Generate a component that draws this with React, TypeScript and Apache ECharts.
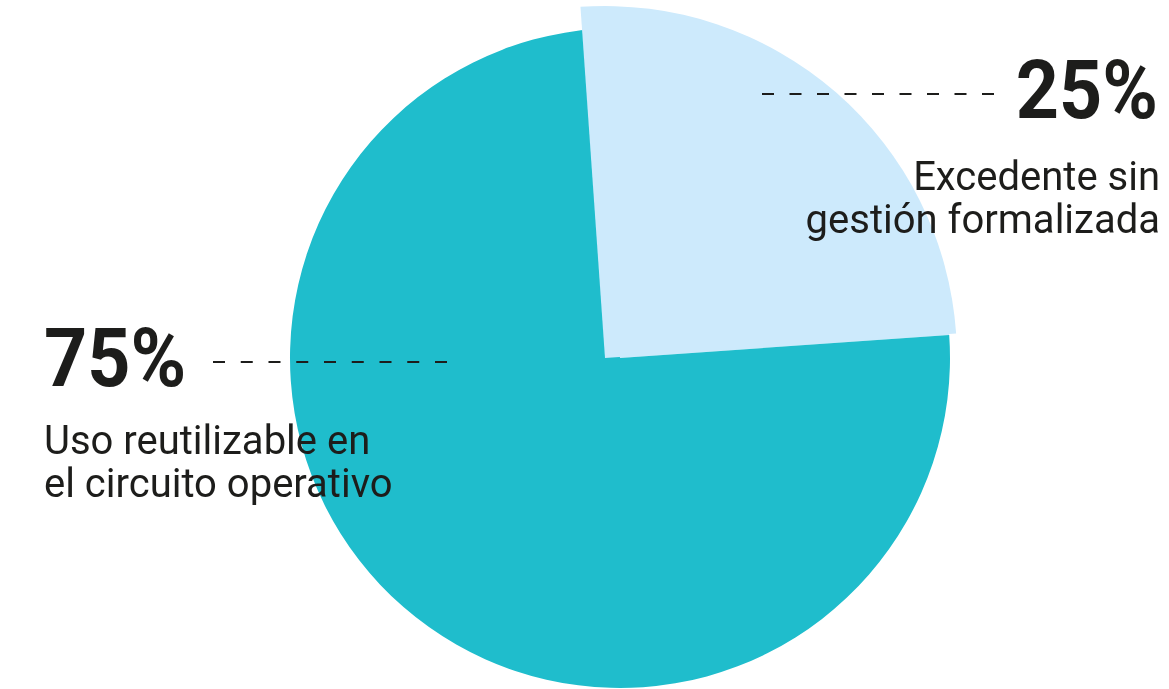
import React, { useEffect, useRef } from 'react';
import * as echarts from 'echarts';

const categories = ['Uso reutilizable en\nel circuito operativo', 'Excedente sin\ngestión formalizada'];
const values = [75, 25];
const colors = ['#1fbdcc', '#cdeafc'];

export default function App() {
  const ref = useRef<HTMLDivElement>(null);
  useEffect(() => {
    document.body.style.margin = '0';
    const chart = echarts.init(ref.current!, null, { renderer: 'svg' });
    const total = values.reduce((a, b) => a + b, 0);
    const pct = values.map((v) => Math.round((v / total) * 100) + '%');
    const ink = '#1d1d1b';
    const family = 'Roboto';
    const start = 94;
    chart.setOption({
      animation: false,
      series: [
        {
          type: 'pie',
          silent: true,
          z: 1,
          center: [620, 358],
          radius: 330,
          startAngle: start,
          clockwise: true,
          label: { show: false },
          labelLine: { show: false },
          itemStyle: { borderWidth: 0 },
          data: [
            { name: categories[1], value: values[1], itemStyle: { color: colors[1] } },
            { name: categories[0], value: values[0], itemStyle: { color: colors[0] } },
          ],
        },
        {
          type: 'pie',
          silent: true,
          z: 2,
          center: [605, 358],
          radius: 352,
          startAngle: start,
          clockwise: true,
          label: { show: false },
          labelLine: { show: false },
          itemStyle: { borderWidth: 0 },
          data: [
            { name: categories[1], value: values[1], itemStyle: { color: colors[1] } },
            { name: categories[0], value: values[0], itemStyle: { color: 'rgba(0,0,0,0)' } },
          ],
        },
      ],
      graphic: {
        elements: [
          {
            type: 'line',
            z: 100,
            shape: { x1: 213, y1: 362, x2: 447, y2: 362 },
            style: { stroke: ink, lineWidth: 2, lineDash: [12, 15.75] },
          },
          {
            type: 'line',
            z: 100,
            shape: { x1: 762, y1: 94, x2: 994, y2: 94 },
            style: { stroke: ink, lineWidth: 2, lineDash: [12, 15.5] },
          },
          {
            type: 'text',
            z: 100,
            x: 44,
            y: 358,
            scaleX: 0.92,
            style: { text: pct[0], fontFamily: family, fontWeight: 'bold', fontSize: 82, fill: ink, verticalAlign: 'middle' },
          },
          {
            type: 'text',
            z: 100,
            x: 44,
            y: 419,
            style: { text: categories[0], fontFamily: family, fontSize: 40, lineHeight: 43, fill: ink, verticalAlign: 'top' },
          },
          {
            type: 'text',
            z: 100,
            x: 1158,
            y: 90,
            scaleX: 0.92,
            style: { text: pct[1], fontFamily: family, fontWeight: 'bold', fontSize: 82, fill: ink, align: 'right', verticalAlign: 'middle' },
          },
          {
            type: 'text',
            z: 100,
            x: 1160,
            y: 155,
            style: { text: categories[1], fontFamily: family, fontSize: 40, lineHeight: 43, fill: ink, align: 'right', verticalAlign: 'top' },
          },
        ],
      },
    });
    return () => chart.dispose();
  }, []);
  return <div ref={ref} style={{ position: 'fixed', left: 0, top: 0, width: 1169, height: 689 }} />;
}
